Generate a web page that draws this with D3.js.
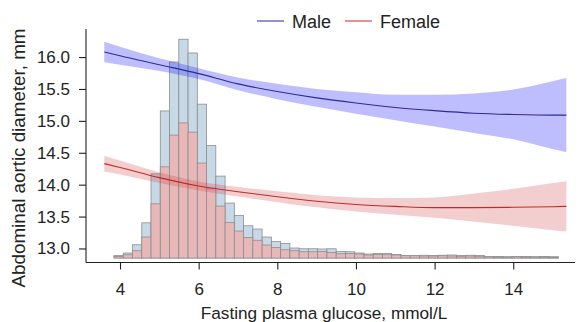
<!DOCTYPE html>
<html>
<head>
<meta charset="utf-8">
<title>Abdominal aortic diameter vs fasting glucose</title>
<script src="https://cdn.jsdelivr.net/npm/d3@7"></script>
<style>
  body { margin: 0; background: #fff; }
  svg text { font-family: "Liberation Sans", Arial, Helvetica, sans-serif; fill: #222; }
</style>
</head>
<body>
<div id="chart"></div>
<script>
// histogram of glucose (counts), all participants (blue) and women (red)
var binStart = 3.847;
var binWidth = 0.2354;
var countAll = [10, 20, 53, 141, 337, 589, 785, 876, 821, 616, 450, 328, 220, 170, 129, 116,
  84, 66, 58, 40, 37, 37, 36, 37, 26, 25, 20, 16, 18, 18, 14, 10,
  10, 11, 10, 11, 12, 10, 11, 10, 6, 6, 5, 6, 6, 5, 6, 5];
var countFemale = [6, 13, 29, 84, 217, 365, 492, 541, 504, 380, 277, 208, 142, 108, 82, 71,
  52, 42, 33, 29, 25, 25, 26, 22, 17, 18, 16, 12, 14, 13, 12, 9,
  9, 8, 8, 9, 8, 7, 8, 7, 5, 4, 4, 5, 4, 4, 4, 3];

// fitted curves with 95% CI half widths
var glucose = [3.6, 4, 5, 6, 7, 8, 9, 10, 11, 12, 13, 14, 15, 15.35];
var maleFit = [16.08, 16.02, 15.88, 15.74, 15.58, 15.46, 15.36, 15.28, 15.21, 15.16, 15.12, 15.10, 15.09, 15.09];
var maleCI = [0.16, 0.14, 0.10, 0.085, 0.10, 0.12, 0.14, 0.17, 0.20, 0.25, 0.31, 0.39, 0.53, 0.58];
var femaleFit = [14.33, 14.27, 14.11, 13.98, 13.89, 13.81, 13.74, 13.69, 13.66, 13.64, 13.64, 13.645, 13.655, 13.66];
var femaleCI = [0.125, 0.11, 0.085, 0.07, 0.075, 0.085, 0.095, 0.11, 0.13, 0.16, 0.22, 0.29, 0.37, 0.395];

var xTicks = [4, 6, 8, 10, 12, 14];
var yTicks = [13.0, 13.5, 14.0, 14.5, 15.0, 15.5, 16.0];

var w = 582, h = 322;
var mLeft = 86, mRight = 575, mTop = 29, mBottom = 262.5;

var svg = d3.select("#chart").append("svg")
  .attr("width", w)
  .attr("height", h);

var x = d3.scaleLinear().domain([3.135, 15.57]).range([mLeft, mRight]);
var y = d3.scaleLinear().domain([12.78, 16.44]).range([mBottom, mTop]);
// twin axis for the histogram counts
var yHist = d3.scaleLinear().domain([-18, 917]).range([mBottom, mTop]);

// histogram: all first, women on top
function drawBars(counts, fill) {
  svg.append("g").selectAll("rect")
    .data(counts)
    .enter()
    .append("rect")
    .attr("x", function(d, i) { return x(binStart + i * binWidth); })
    .attr("width", function(d, i) { return x(binStart + (i + 1) * binWidth) - x(binStart + i * binWidth); })
    .attr("y", function(d) { return yHist(d); })
    .attr("height", function(d) { return yHist(0) - yHist(d); })
    .attr("fill", fill)
    .attr("stroke", "#8e8e8e")
    .attr("stroke-width", 0.8);
}
drawBars(countAll, "#c7d8e7");
drawBars(countFemale, "#e8b8b9");

// confidence bands and lines
function drawFit(fit, ci, lineColor, bandColor, bandOpacity) {
  var pts = glucose.map(function(g, i) { return {g: g, v: fit[i], c: ci[i]}; });
  var area = d3.area()
    .x(function(d) { return x(d.g); })
    .y0(function(d) { return y(d.v - d.c); })
    .y1(function(d) { return y(d.v + d.c); })
    .curve(d3.curveMonotoneX);
  var line = d3.line()
    .x(function(d) { return x(d.g); })
    .y(function(d) { return y(d.v); })
    .curve(d3.curveMonotoneX);
  svg.append("path")
    .attr("d", area(pts))
    .attr("fill", bandColor)
    .attr("fill-opacity", bandOpacity);
  svg.append("path")
    .attr("d", line(pts))
    .attr("fill", "none")
    .attr("stroke", lineColor)
    .attr("stroke-width", 1.1);
}
drawFit(maleFit, maleCI, "#2b2b96", "#1010ff", 0.27);
drawFit(femaleFit, femaleCI, "#c42a2a", "#cc3333", 0.24);

// axes
var xAxis = d3.axisBottom(x).tickValues(xTicks).tickSize(7).tickPadding(13).tickSizeOuter(0)
  .tickFormat(d3.format("d"));
var yAxis = d3.axisLeft(y).tickValues(yTicks).tickSize(7).tickPadding(9).tickSizeOuter(0)
  .tickFormat(d3.format(".1f"));

var gx = svg.append("g")
  .attr("transform", "translate(0," + mBottom + ")")
  .call(xAxis);
var gy = svg.append("g")
  .attr("transform", "translate(" + mLeft + ",0)")
  .call(yAxis);

gx.select(".domain").attr("d", "M" + mLeft + ",0H" + mRight);
gy.select(".domain").attr("d", "M0," + mTop + "V" + mBottom);
[gx, gy].forEach(function(g) {
  g.attr("font-size", 17).attr("font-family", null);
  g.selectAll("path, line").attr("stroke", "#222").attr("stroke-width", 1.1);
  g.selectAll("text").attr("fill", "#222");
});

// axis titles
svg.append("text")
  .attr("x", 324)
  .attr("y", 318.5)
  .attr("text-anchor", "middle")
  .attr("font-size", 17.2)
  .text("Fasting plasma glucose, mmol/L");

svg.append("text")
  .attr("transform", "translate(25,158) rotate(-90)")
  .attr("text-anchor", "middle")
  .attr("font-size", 18.8)
  .text("Abdominal aortic diameter, mm");

// legend
var legend = [
  {name: "Male", color: "#3a3aa8", x: 257},
  {name: "Female", color: "#d03a3a", x: 345}
];
var lg = svg.selectAll(".legend")
  .data(legend)
  .enter()
  .append("g")
  .attr("class", "legend")
  .attr("transform", function(d) { return "translate(" + d.x + ",21)"; });
lg.append("line")
  .attr("x1", 0).attr("x2", 27)
  .attr("y1", 0).attr("y2", 0)
  .attr("stroke", function(d) { return d.color; })
  .attr("stroke-width", 1.1);
lg.append("text")
  .attr("x", 35)
  .attr("y", 6.5)
  .attr("font-size", 18)
  .text(function(d) { return d.name; });
</script>
</body>
</html>
